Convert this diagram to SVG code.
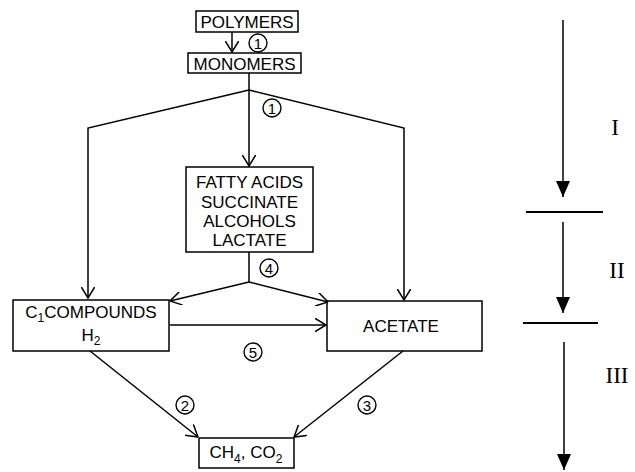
<svg xmlns="http://www.w3.org/2000/svg" width="635" height="472" viewBox="0 0 635 472">
<style>
.box{fill:#fff;stroke:#000;stroke-width:1.5}
.t{font-family:"Liberation Sans",Arial,sans-serif;font-size:17px;fill:#000;text-anchor:middle}
.sub{font-size:12px}
.c{fill:none;stroke:#000;stroke-width:1.4}
.n{font-family:"Liberation Sans",Arial,sans-serif;font-size:15px;fill:#000;text-anchor:middle}
.ln{fill:none;stroke:#000;stroke-width:1.5}
.ph{font-family:"Liberation Serif","Times New Roman",serif;font-size:23px;fill:#000;text-anchor:middle}
</style>
<defs>
<marker id="open" viewBox="0 0 12 14" refX="11.5" refY="7" markerWidth="12" markerHeight="14" markerUnits="userSpaceOnUse" orient="auto">
<path d="M0,0 L11.5,7 L0,14" fill="none" stroke="#000" stroke-width="1.5"/>
</marker>
<marker id="solid" viewBox="0 0 16 14" refX="16" refY="7" markerWidth="16" markerHeight="14" markerUnits="userSpaceOnUse" orient="auto">
<path d="M0,0 L16,7 L0,14 Z" fill="#000"/>
</marker>
</defs>

<g id="polymers">
<rect class="box" x="196" y="11" width="102" height="21"/>
<text class="t" x="247" y="28">POLYMERS</text>
</g>
<g id="monomers">
<rect class="box" x="188" y="53" width="113" height="20"/>
<text class="t" x="244.5" y="69.5">MONOMERS</text>
</g>
<g id="intermediates">
<rect class="box" x="186" y="167" width="127" height="85"/>
<text class="t" x="249.5" y="188">FATTY ACIDS</text>
<text class="t" x="249.5" y="207.5">SUCCINATE</text>
<text class="t" x="249.5" y="227">ALCOHOLS</text>
<text class="t" x="249.5" y="246">LACTATE</text>
</g>
<g id="c1">
<rect class="box" x="13" y="300" width="156" height="51"/>
<text class="t" x="91" y="318">C<tspan class="sub" dy="4">1</tspan><tspan dy="-4">COMPOUNDS</tspan></text>
<text class="t" x="91" y="341">H<tspan class="sub" dy="4">2</tspan></text>
</g>
<g id="acetate">
<rect class="box" x="327" y="301" width="155" height="50"/>
<text class="t" x="401" y="332">ACETATE</text>
</g>
<g id="products">
<rect class="box" x="199" y="438" width="95" height="30"/>
<text class="t" x="246" y="458">CH<tspan class="sub" dy="5">4</tspan><tspan dy="-5">, CO</tspan><tspan class="sub" dy="5">2</tspan></text>
</g>

<g id="connectors">
<line class="ln" x1="232" y1="32" x2="232" y2="52" marker-end="url(#open)"/>
<line class="ln" x1="249" y1="73" x2="249" y2="90"/>
<polyline class="ln" points="249,90 88,128 88,298" marker-end="url(#open)"/>
<polyline class="ln" points="249,90 404,128 404,300" marker-end="url(#open)"/>
<line class="ln" x1="249" y1="90" x2="249" y2="166" marker-end="url(#open)"/>
<line class="ln" x1="249" y1="252" x2="249" y2="282"/>
<line class="ln" x1="249" y1="282" x2="170" y2="301" marker-end="url(#open)"/>
<line class="ln" x1="249" y1="282" x2="328" y2="302" marker-end="url(#open)"/>
<line class="ln" x1="170" y1="325" x2="326" y2="325" marker-end="url(#open)"/>
<line class="ln" x1="90" y1="351" x2="198" y2="437" marker-end="url(#open)"/>
<line class="ln" x1="403" y1="351" x2="294" y2="437" marker-end="url(#open)"/>
</g>

<g id="labels">
<circle class="c" cx="258" cy="43" r="9"/><text class="n" x="258" y="48.5">1</text>
<circle class="c" cx="272" cy="108" r="9"/><text class="n" x="272" y="113.5">1</text>
<circle class="c" cx="269" cy="268" r="9"/><text class="n" x="269" y="273.5">4</text>
<circle class="c" cx="253" cy="352" r="9"/><text class="n" x="253" y="357.5">5</text>
<circle class="c" cx="185" cy="405" r="9"/><text class="n" x="185" y="410.5">2</text>
<circle class="c" cx="367" cy="405" r="9"/><text class="n" x="367" y="410.5">3</text>
</g>

<g id="phases">
<line class="ln" x1="563" y1="20" x2="563" y2="197" marker-end="url(#solid)"/>
<line x1="526" y1="212" x2="603" y2="212" stroke="#000" stroke-width="2"/>
<line class="ln" x1="563" y1="222" x2="563" y2="313" marker-end="url(#solid)"/>
<line x1="523" y1="323" x2="598" y2="323" stroke="#000" stroke-width="2"/>
<line class="ln" x1="564" y1="342" x2="564" y2="470" marker-end="url(#solid)"/>
<text class="ph" x="615" y="135">I</text>
<text class="ph" x="617" y="278">II</text>
<text class="ph" x="617" y="383">III</text>
</g>
</svg>
